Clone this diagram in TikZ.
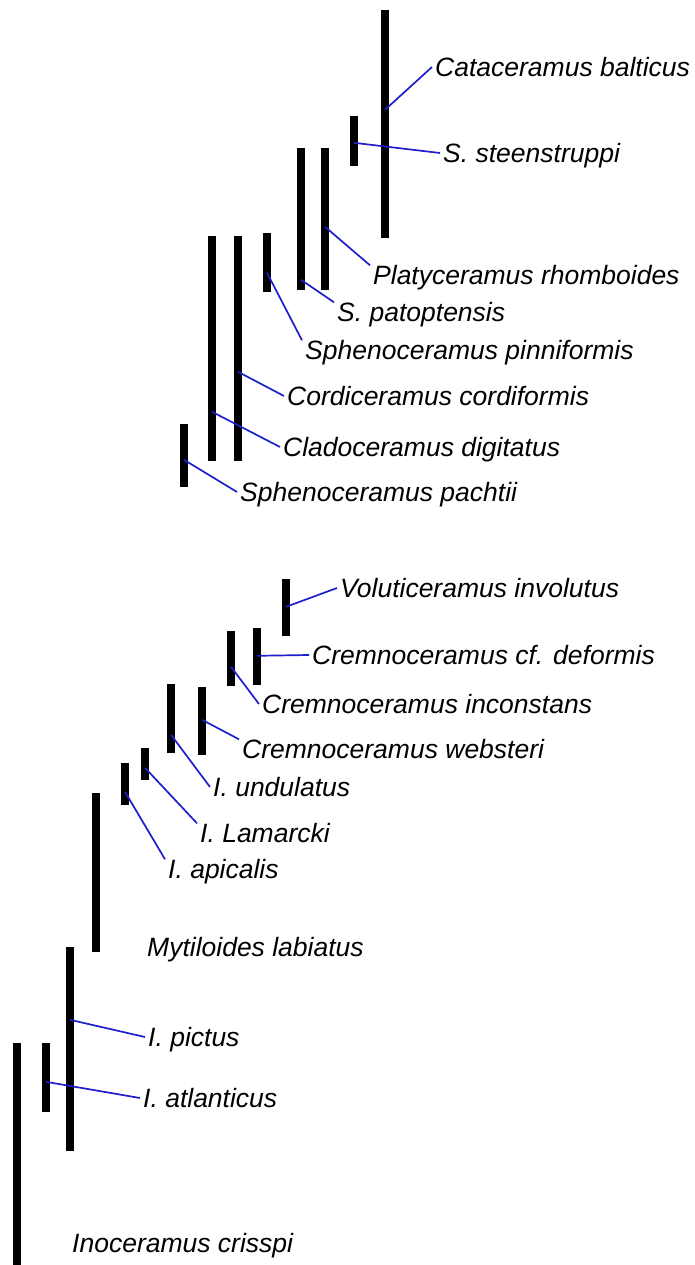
\documentclass[tikz,border=0pt]{standalone}
\usepackage{fontspec}
\setmainfont{Liberation Sans}
\usepackage{tikz}
\usetikzlibrary{positioning,calc}
\definecolor{linkblue}{RGB}{30,30,205}
\tikzset{
  rangebar/.style={draw=none, fill=black, inner sep=0pt, minimum width=8.5pt},
  taxon/.style={anchor=west, inner xsep=3pt, inner ysep=0pt, text height=19pt, text depth=0pt,
                font=\fontsize{26.5}{30}\selectfont\itshape},
  link/.style={draw=linkblue, line width=1.7pt},
}
\begin{document}
\begin{tikzpicture}[x=1pt, y=-1pt]
  \useasboundingbox (0,0) rectangle (694,1265);
  % stratigraphic ranges
  \foreach \n/\x/\t/\b in {cata/385/10/238, steen/354/116/166, platy/325/148/290, patop/301/148/290,
      pinni/267/233/292, cordi/238/236/461, clado/212/236/461, pacht/184/424/487,
      volut/286/579/636, deform/257/628/685, incon/231/631/686, webst/202/687/755,
      undul/171/684/753, lamar/145/748/780, apica/125/763/805, mytil/96/793/952,
      pictus/70/947/1151, atlan/46/1043/1112, crisp/17/1043/1265}
     \node[rangebar, minimum height={(\b-\t)*1pt}] (\n) at (\x,{(\t+\b)/2}) {};
  % upper group
  \node[taxon] (lcata)  at (432,67)  {Cataceramus balticus};
  \node[taxon] (lsteen) at (440,153) {S. steenstruppi};
  \node[taxon] (lplaty) at (370,275) {Platyceramus rhomboides};
  \node[taxon] (lpatop) at (334,312) {S. patoptensis};
  \node[taxon] (lpinni) at (302,350) {Sphenoceramus pinniformis};
  \node[taxon] (lcordi) at (284,396) {Cordiceramus cordiformis};
  \node[taxon] (lclado) at (280,447) {Cladoceramus digitatus};
  \node[taxon] (lpacht) at (237,492) {Sphenoceramus pachtii};
  % lower group
  \node[taxon] (lvolut)  at (337,588)  {Voluticeramus involutus};
  \node[taxon] (ldeform) at (309,655)  {Cremnoceramus cf. deformis};
  \node[taxon] (lincon)  at (259,704)  {Cremnoceramus inconstans};
  \node[taxon] (lwebst)  at (239,749)  {Cremnoceramus websteri};
  \node[taxon] (lundul)  at (210,787)  {I. undulatus};
  \node[taxon] (llamar)  at (197,833)  {I. Lamarcki};
  \node[taxon] (lapica)  at (165,869)  {I. apicalis};
  \node[taxon] (lmytil)  at (144,947)  {Mytiloides labiatus};
  \node[taxon] (lpictus) at (145,1037) {I. pictus};
  \node[taxon] (latlan)  at (140,1098) {I. atlanticus};
  \node[taxon] (lcrisp)  at (69,1243)  {Inoceramus crisspi};
  % leaders: bar, drop from top, label, anchor
  \foreach \b/\d/\l/\a in {cata/100/lcata/west, steen/27/lsteen/west, platy/79/lplaty/north west,
      patop/132/lpatop/north west, pinni/40/lpinni/north west, cordi/136/lcordi/west,
      clado/176/lclado/west, pacht/36/lpacht/west, volut/28/lvolut/west, deform/28/ldeform/west,
      incon/36/lincon/west, webst/33/lwebst/north west, undul/51/lundul/west,
      lamar/20/llamar/north west, apica/29/lapica/north west, pictus/73/lpictus/west,
      atlan/39/latlan/west}
     \draw[link] ([yshift=-\d pt]\b.north) -- (\l.\a);
\end{tikzpicture}
\end{document}
